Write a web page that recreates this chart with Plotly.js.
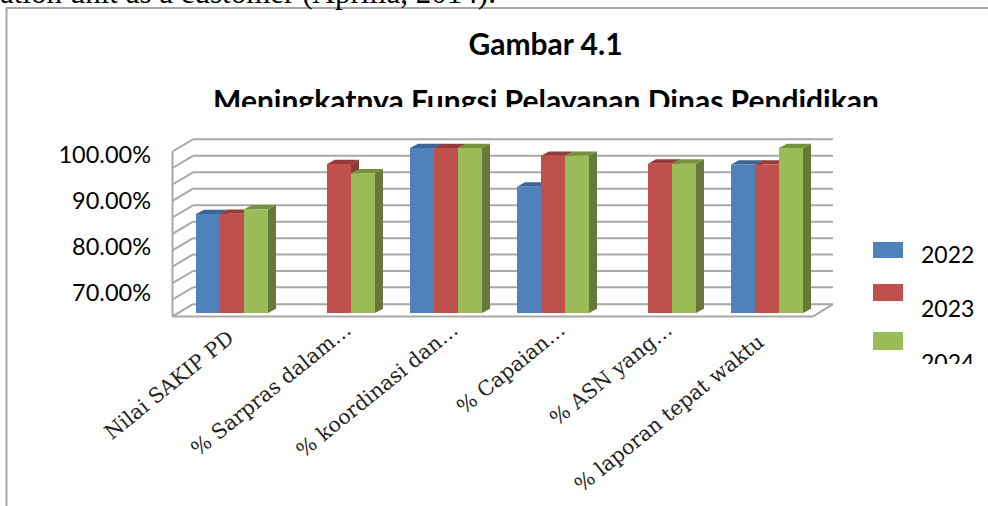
<!DOCTYPE html>
<html><head><meta charset="utf-8">
<script src="https://cdn.plot.ly/plotly-3.0.1.min.js"></script>
<style>html,body{margin:0;padding:0;background:#fff;overflow:hidden}
#wrap{position:relative;width:988px;height:506px}
#chart{width:988px;height:506px}
.cover{position:absolute;background:#fff}</style></head>
<body><div id="wrap"><div id="chart"></div>
<div class="cover" style="left:180px;top:107px;width:720px;height:31px"></div>
<div class="cover" style="left:905px;top:364px;width:83px;height:40px"></div>
</div>
<script>
const categories = ["Nilai SAKIP PD","% Sarpras dalam…","% koordinasi dan…","% Capaian…","% ASN yang…","% laporan tepat waktu"];
const tickLabels = ["Nilai SAKIP PD\u00a0\u00a0","% Sarpras dalam…","% koordinasi dan…","% Capaian…","% ASN yang…","% laporan tepat waktu\u00a0\u00a0\u00a0"];
const years = ["2022","2023","2024"];
const v2022 = [85.65,null,100,91.6,null,96.4];
const v2023 = [85.7,96.5,100,98.3,96.6,96.4];
const v2024 = [86.7,94.5,100,98.3,96.6,100];
const yTicks = [100,90,80,70];
const yTickText = ["100.00%","90.00%","80.00%","70.00%"];
const frontColors = ["#4f81bd","#c0504d","#9bbb59"];
const topColors = ["#3d6596","#953b39","#76923c"];
const sideColors = ["#385d8a","#8a3a38","#66783a"];

const W=988,H=506,L=172,R=833,T=139,B=313;
const pxPerCat=107, catZeroPx=232, pxPerUnit=4.6, hundredPx=148;
const xRange=[(L-catZeroPx)/pxPerCat,(R-catZeroPx)/pxPerCat];
const yRange=[100-(B-hundredPx)/pxPerUnit,100+(hundredPx-T)/pxPerUnit];
const barW=24/pxPerCat, depthX=8/pxPerCat, depthY=4.3/pxPerUnit;
const px=x=>(x-L)/(R-L), py=y=>1-(y-T)/(B-T);

const series=[v2022,v2023,v2024];
const traces=series.map((vals,i)=>({type:'bar',name:years[i],x:categories.map((_,k)=>k),y:vals,
  marker:{color:frontColors[i],line:{width:0}},width:barW,offset:(i-1.5)*barW,showlegend:false,hovertemplate:'%{y:.2f}%<extra>'+years[i]+'</extra>'}));

const shapes=[];
const gridColor='#a8a8a8';
function wall(x0,y0,x1,y1,w){shapes.push({type:'line',xref:'paper',yref:'paper',x0:px(x0),y0:py(y0),x1:px(x1),y1:py(y1),layer:'below',line:{color:gridColor,width:w||2}});}
const gridPx=[139.3,155.8,172.3,188.7,205.3,221.7,238.2,254.4,271,287.3,304.2];
gridPx.forEach(y=>{wall(193,y,833,y);wall(172.5,y+12.2,193,y);});
wall(172.5,151.5,172.5,316.5);
wall(172.5,316.5,813,316.5);
wall(813,316.5,833,304.2);
wall(6.5,8,6.5,506,2);
wall(6,8,988,8,2);

series.forEach((vals,i)=>{
  vals.forEach((v,k)=>{
    if(v===null)return;
    const x0=k+(i-1.5)*barW, x1=x0+barW, b=yRange[0];
    shapes.push({type:'path',xref:'x',yref:'y',layer:'below',line:{width:0},fillcolor:sideColors[i],
      path:`M${x1},${b}L${x1+depthX},${b+depthY}L${x1+depthX},${v+depthY}L${x1},${v}Z`});
    shapes.push({type:'path',xref:'x',yref:'y',layer:'below',line:{width:0},fillcolor:topColors[i],
      path:`M${x0},${v}L${x0+depthX},${v+depthY}L${x1+depthX},${v+depthY}L${x1},${v}Z`});
  });
});

const swatchPx=[[242,258],[284,301],[332,350]];
swatchPx.forEach((s,i)=>shapes.push({type:'rect',xref:'paper',yref:'paper',x0:px(873),x1:px(903),y0:py(s[1]),y1:py(s[0]),fillcolor:frontColors[i],line:{width:0}}));

const sans='Lato, "Open Sans", sans-serif', serif='"DejaVu Serif", serif';
const legendY=[254,308,362];
const annotations=years.map((t,i)=>({text:t,xref:'paper',yref:'paper',x:px(919),y:py(legendY[i]),xanchor:'left',yanchor:'middle',showarrow:false,font:{family:sans,size:23,color:'#000'}}));
annotations.push({text:'<b>Meningkatnya Fungsi Pelayanan Dinas Pendidikan</b>',xref:'paper',yref:'paper',x:px(545.5),y:py(100),xanchor:'center',yanchor:'middle',showarrow:false,font:{family:sans,size:30,color:'#000'}});
annotations.push({text:'ation unit as a customer (Aprilia, 2014).',xref:'paper',yref:'paper',x:px(-2),y:py(-7.5),xanchor:'left',yanchor:'middle',showarrow:false,font:{family:'"Liberation Serif", serif',size:31,color:'#000'}});

const layout={width:W,height:H,margin:{l:L,r:W-R,t:T,b:H-B,pad:0},paper_bgcolor:'#fff',plot_bgcolor:'rgba(0,0,0,0)',
 showlegend:false,barmode:'overlay',
 title:{text:'<b>Gambar 4.1</b>',x:545.5/W,xanchor:'center',y:1-44/H,yanchor:'middle',font:{family:sans,size:30,color:'#000'}},
 xaxis:{type:'linear',range:xRange,tickmode:'array',tickvals:categories.map((_,k)=>k),ticktext:tickLabels,tickangle:-39,showgrid:false,zeroline:false,showline:false,ticks:'',ticklabelstandoff:0,ticklabelshift:7,tickfont:{family:serif,size:20.5,color:'#222'}},
 yaxis:{range:yRange,tickmode:'array',tickvals:yTicks,ticktext:yTickText,showgrid:false,zeroline:false,showline:false,ticks:'',ticklabelstandoff:20,ticklabelshift:7,tickfont:{family:sans,size:23.5,color:'#000'}},
 shapes,annotations};
Plotly.newPlot('chart',traces,layout,{displayModeBar:false,staticPlot:true});
</script></body></html>
